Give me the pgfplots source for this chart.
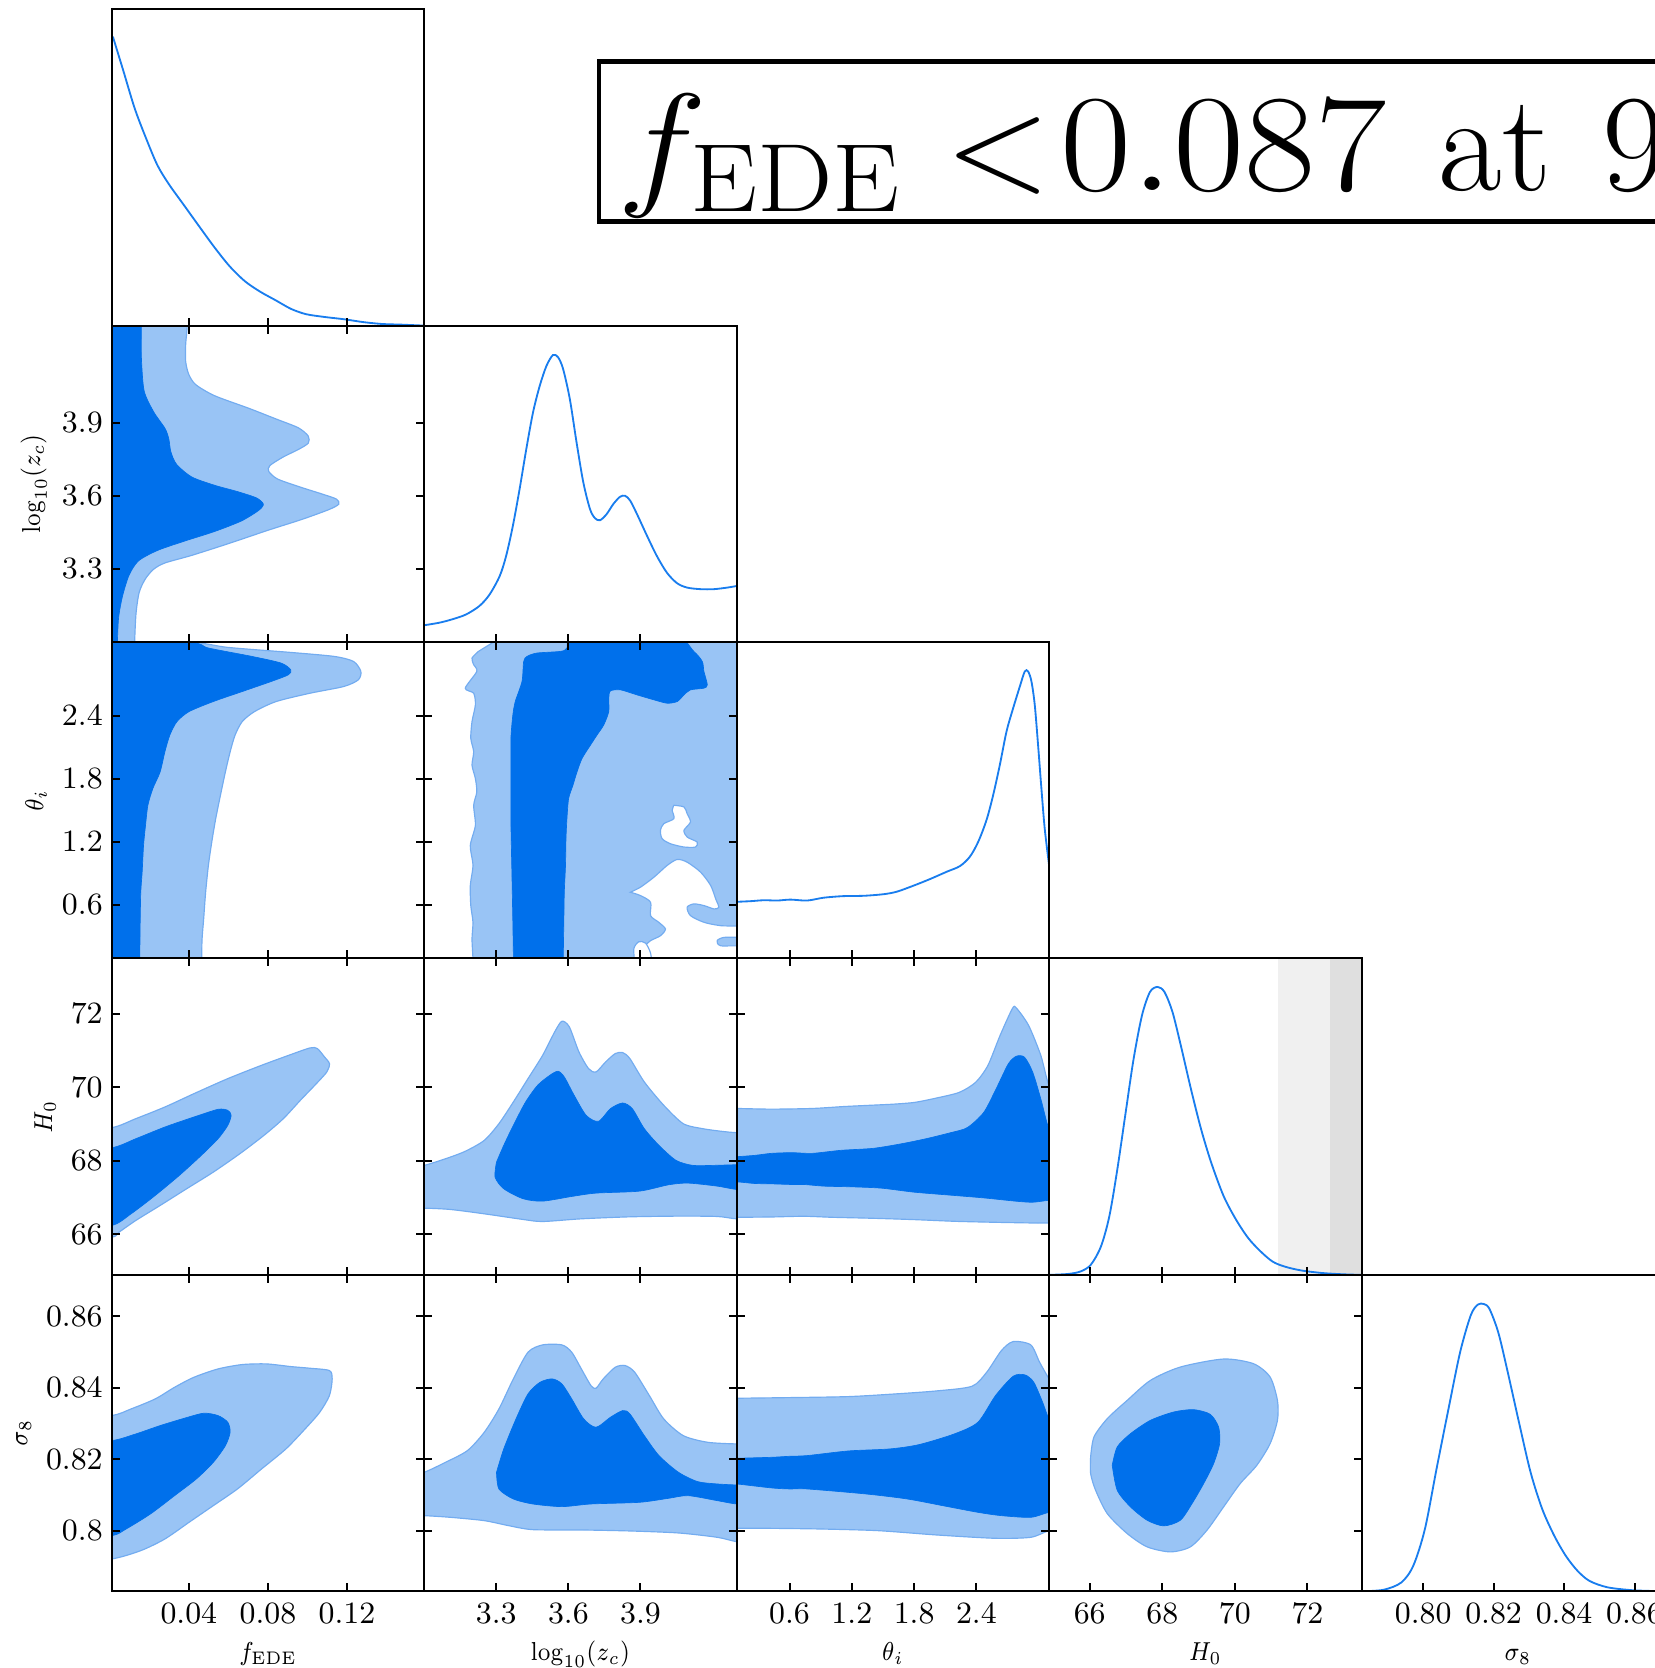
\documentclass[border=0pt]{standalone}
\usepackage{fix-cm}
\usepackage{graphicx}
\usepackage{pgfplots}
\pgfplotsset{compat=1.18}
\definecolor{cdark}{RGB}{0,112,235}
\definecolor{clight}{RGB}{153,196,245}
\definecolor{cedge}{RGB}{115,172,240}
\definecolor{cline}{RGB}{25,125,238}
\definecolor{bandA}{RGB}{240,240,240}
\definecolor{bandB}{RGB}{223,223,223}
\newcommand{\lab}[1]{\scalebox{0.86}[1]{#1}}
\pgfplotsset{
  cp/.style={scale only axis, width=93.735pt, height=94.93pt, anchor=south west,
    axis on top, tick align=inside, major tick length=2.4pt,
    tick style={black, line width=0.6pt}, axis line style={line width=0.6pt},
    tick label style={font=\fontsize{9.3}{11}\selectfont},
    xticklabel style={inner sep=3.6pt}, yticklabel style={inner sep=2.5pt},
    label style={font=\fontsize{7.8}{9}\selectfont},
    ylabel style={inner sep=1.8pt},
    xlabel style={at={(axis description cs:0.5,0)}, anchor=base, yshift=-20.7pt},
    scaled ticks=false, xticklabels={{},{},{},{},{}}, yticklabels={{},{},{},{},{}}, clip=true},
  oned/.style={cp, ymin=0, ymax=1, ytick=\empty, xtick pos=left},
  lt/.style={fill=clight, draw=cedge, line width=0.35pt, smooth, tension=0.45},
  dk/.style={fill=cdark, draw=cdark, line width=0.2pt, smooth, tension=0.45},
  hole/.style={fill=white, draw=cedge, line width=0.35pt, smooth, tension=0.45},
  ln/.style={cline, line width=0.55pt, smooth, mark=none},
  colF/.style={xmin=0.001, xmax=0.159, xtick={0.04,0.08,0.12}},
  colZ/.style={xmin=3.0, xmax=4.3, xtick={3.3,3.6,3.9}},
  colT/.style={xmin=0.09, xmax=3.10, xtick={0.6,1.2,1.8,2.4}},
  colH/.style={xmin=64.88, xmax=73.49, xtick={66,68,70,72}},
  colS/.style={xmin=0.7825, xmax=0.8712, xtick={0.80,0.82,0.84,0.86}},
  rowZ/.style={ymin=3.0, ymax=4.3, ytick={3.3,3.6,3.9}},
  rowT/.style={ymin=0.09, ymax=3.10, ytick={0.6,1.2,1.8,2.4}},
  rowH/.style={ymin=64.9, ymax=73.5, ytick={66,68,70,72}},
  rowS/.style={ymin=0.7831, ymax=0.8716, ytick={0.80,0.82,0.84,0.86}},
  botF/.style={xticklabels={$0.04$,$0.08$,$0.12$}, xlabel={\lab{$f_{\mathrm{EDE}}$}}},
  botZ/.style={xticklabels={$3.3$,$3.6$,$3.9$}, xlabel={\lab{$\log_{10}(z_c)$}}},
  botT/.style={xticklabels={$0.6$,$1.2$,$1.8$,$2.4$}, xlabel={\lab{$\theta_i$}}},
  botH/.style={xticklabels={$66$,$68$,$70$,$72$}, xlabel={\lab{$H_0$}}},
  botS/.style={xticklabels={$0.80$,$0.82$,$0.84$,$0.86$}, xlabel={\lab{$\sigma_8$}}},
  lefZ/.style={yticklabels={$3.3$,$3.6$,$3.9$}, ylabel={\lab{$\log_{10}(z_c)$}}},
  lefT/.style={yticklabels={$0.6$,$1.2$,$1.8$,$2.4$}, ylabel={\lab{$\theta_i$}}},
  lefH/.style={yticklabels={$66$,$68$,$70$,$72$}, ylabel={\lab{$H_0$}}},
  lefS/.style={yticklabels={$0.8$,$0.82$,$0.84$,$0.86$}, ylabel={\lab{$\sigma_8$}}},
}
\begin{document}
\begin{tikzpicture}
\useasboundingbox (0,0) rectangle (496.2pt,500.4pt);
% ---------- row 0 ----------
\begin{axis}[oned, colF, at={(33.51pt,402.72pt)}]
\addplot[ln] coordinates {(0.0016,0.913) (0.0068,0.807) (0.0126,0.687) (0.0183,0.593) (0.0241,0.507) (0.0299,0.447) (0.0376,0.38) (0.0453,0.313) (0.0530,0.247) (0.0607,0.187) (0.0684,0.14) (0.0761,0.107) (0.0839,0.08) (0.0916,0.053) (0.0993,0.036) (0.1089,0.027) (0.1185,0.02) (0.1282,0.011) (0.1378,0.005) (0.1474,0.003) (0.1586,0)};
\end{axis}
% ---------- row 1 ----------
\begin{axis}[cp, colF, rowZ, lefZ, at={(33.51pt,307.79pt)}]
\addplot[lt] coordinates {(-0.02,4.4) (0.0392,4.4) (0.0392,4.300) (0.0384,4.222) (0.0384,4.153) (0.0399,4.101) (0.0434,4.058) (0.0530,4.012) (0.0704,3.960) (0.0839,3.917) (0.0954,3.880) (0.1004,3.846) (0.1004,3.817) (0.0954,3.791) (0.0877,3.760) (0.0810,3.725) (0.0804,3.701) (0.0848,3.670) (0.0954,3.639) (0.1070,3.609) (0.1147,3.587) (0.1158,3.566) (0.1108,3.544) (0.0973,3.504) (0.0800,3.459) (0.0607,3.406) (0.0415,3.356) (0.0280,3.325) (0.0222,3.299) (0.0180,3.259) (0.0149,3.204) (0.0133,3.117) (0.0126,3.000) (0.0124,2.9) (-0.02,2.9)} --cycle;
\addplot[dk] coordinates {(-0.02,4.4) (0.0160,4.4) (0.0160,4.300) (0.0160,4.171) (0.0174,4.032) (0.0222,3.946) (0.0280,3.877) (0.0299,3.834) (0.0309,3.782) (0.0338,3.730) (0.0415,3.678) (0.0530,3.644) (0.0646,3.618) (0.0742,3.592) (0.0777,3.566) (0.0752,3.540) (0.0665,3.497) (0.0530,3.454) (0.0376,3.414) (0.0241,3.376) (0.0145,3.333) (0.0097,3.273) (0.0064,3.186) (0.0045,3.100) (0.0039,3.000) (0.0038,2.9) (-0.02,2.9)} --cycle;
\end{axis}
\begin{axis}[oned, colZ, at={(127.25pt,307.79pt)}]
\addplot[ln] coordinates {(3.000,0.053) (3.063,0.061) (3.118,0.072) (3.174,0.087) (3.230,0.114) (3.272,0.150) (3.314,0.208) (3.341,0.272) (3.369,0.367) (3.397,0.483) (3.425,0.610) (3.453,0.726) (3.481,0.810) (3.509,0.873) (3.536,0.907) (3.557,0.900) (3.578,0.863) (3.606,0.768) (3.634,0.631) (3.662,0.505) (3.690,0.420) (3.711,0.391) (3.732,0.385) (3.759,0.404) (3.787,0.436) (3.815,0.459) (3.836,0.462) (3.857,0.447) (3.885,0.405) (3.927,0.336) (3.968,0.272) (4.010,0.219) (4.052,0.186) (4.094,0.172) (4.150,0.167) (4.205,0.167) (4.261,0.172) (4.300,0.177)};
\end{axis}
% ---------- row 2 ----------
\begin{axis}[cp, colF, rowT, lefT, at={(33.51pt,212.86pt)}]
\addplot[lt] coordinates {(-0.02,3.2) (0.0414,3.100) (0.0597,3.049) (0.0915,3.001) (0.1135,2.963) (0.1233,2.915) (0.1270,2.820) (0.1257,2.740) (0.1184,2.677) (0.1013,2.613) (0.0842,2.534) (0.0732,2.438) (0.0670,2.343) (0.0634,2.215) (0.0609,2.056) (0.0585,1.865) (0.0560,1.643) (0.0536,1.420) (0.0516,1.197) (0.0499,0.975) (0.0485,0.720) (0.0475,0.465) (0.0467,0.275) (0.0465,0.090) (0.0465,0.0) (-0.02,0.0)} --cycle;
\addplot[dk] coordinates {(-0.02,3.2) (0.0401,3.100) (0.0499,3.043) (0.0719,2.963) (0.0866,2.900) (0.0915,2.836) (0.0903,2.788) (0.0817,2.725) (0.0670,2.629) (0.0524,2.534) (0.0401,2.438) (0.0340,2.343) (0.0304,2.215) (0.0279,2.056) (0.0255,1.865) (0.0218,1.706) (0.0193,1.547) (0.0181,1.356) (0.0171,1.165) (0.0164,0.911) (0.0157,0.720) (0.0154,0.434) (0.0152,0.090) (0.0152,0.0) (-0.02,0.0)} --cycle;
\end{axis}
\begin{axis}[cp, colZ, rowT, at={(127.25pt,212.86pt)}]
\addplot[lt] coordinates {(3.289,3.100) (3.32,3.2) (4.4,3.2) (4.4,0.0) (3.203,0.0) (3.203,0.090) (3.199,0.275) (3.203,0.434) (3.194,0.593) (3.192,0.784) (3.203,0.975) (3.192,1.165) (3.213,1.356) (3.206,1.547) (3.219,1.675) (3.213,1.802) (3.199,1.929) (3.206,2.056) (3.194,2.184) (3.199,2.343) (3.213,2.502) (3.206,2.613) (3.171,2.661) (3.219,2.820) (3.206,2.884) (3.199,2.947) (3.226,3.011)} --cycle;
\addplot[hole] coordinates {(4.039,1.547) (4.081,1.531) (4.094,1.468) (4.108,1.388) (4.081,1.309) (4.094,1.245) (4.136,1.197) (4.129,1.150) (4.081,1.150) (4.025,1.181) (3.990,1.229) (3.983,1.309) (3.997,1.372) (4.039,1.420) (4.032,1.500) (4.039,1.547)} --cycle;
\addplot[hole] coordinates {(3.858,0.720) (3.900,0.768) (3.956,0.863) (4.011,0.975) (4.053,1.032) (4.094,1.006) (4.150,0.911) (4.192,0.784) (4.213,0.656) (4.226,0.577) (4.206,0.561) (4.164,0.593) (4.122,0.609) (4.094,0.577) (4.108,0.497) (4.164,0.434) (4.233,0.402) (4.33,0.39) (4.33,0.30) (4.247,0.290) (4.219,0.259) (4.233,0.211) (4.33,0.195) (4.35,0.0) (3.956,0.0) (3.928,0.147) (3.914,0.195) (3.942,0.259) (3.983,0.306) (4.004,0.370) (3.976,0.434) (3.942,0.497) (3.942,0.625) (3.900,0.688) (3.858,0.720)} --cycle;
\addplot[hole] coordinates {(3.879,0.0) (3.872,0.179) (3.893,0.249) (3.921,0.236) (3.942,0.140) (3.949,0.0)} --cycle;
\addplot[dk] coordinates {(3.372,0.0) (3.369,0.434) (3.365,0.911) (3.361,1.388) (3.361,1.865) (3.361,2.184) (3.369,2.406) (3.379,2.534) (3.407,2.725) (3.414,2.915) (3.428,2.963) (3.469,2.995) (3.567,3.011) (3.594,3.043) (3.630,3.2) (4.02,3.2) (4.122,3.011) (4.157,2.915) (4.164,2.820) (4.178,2.693) (4.164,2.661) (4.108,2.645) (4.081,2.597) (4.053,2.534) (4.011,2.518) (3.956,2.550) (3.886,2.597) (3.817,2.645) (3.775,2.635) (3.768,2.565) (3.768,2.438) (3.747,2.311) (3.719,2.215) (3.692,2.120) (3.657,1.993) (3.636,1.865) (3.619,1.738) (3.601,1.611) (3.594,1.420) (3.590,1.229) (3.588,0.975) (3.583,0.720) (3.581,0.434) (3.578,0.0)} --cycle;
\end{axis}
\begin{axis}[oned, colT, at={(220.98pt,212.86pt)}]
\addplot[ln] coordinates {(0.090,0.179) (0.224,0.181) (0.353,0.184) (0.481,0.183) (0.609,0.186) (0.769,0.183) (0.929,0.192) (1.121,0.197) (1.313,0.198) (1.505,0.203) (1.633,0.211) (1.794,0.230) (1.954,0.251) (2.114,0.274) (2.242,0.292) (2.338,0.322) (2.418,0.369) (2.498,0.438) (2.562,0.517) (2.626,0.612) (2.690,0.717) (2.754,0.791) (2.818,0.859) (2.866,0.907) (2.898,0.907) (2.930,0.876) (2.962,0.802) (2.994,0.675) (3.026,0.538) (3.058,0.411) (3.100,0.295)};
\end{axis}
% ---------- row 3 ----------
\begin{axis}[cp, colF, rowH, lefH, at={(33.51pt,117.93pt)}]
\addplot[lt] coordinates {(-0.02,68.85) (0.001,68.901) (0.0132,69.146) (0.0279,69.463) (0.0426,69.826) (0.0597,70.234) (0.0768,70.597) (0.0915,70.887) (0.1013,71.069) (0.1050,71.051) (0.1086,70.824) (0.1111,70.642) (0.1098,70.416) (0.1037,70.053) (0.0964,69.645) (0.0878,69.146) (0.0780,68.692) (0.0658,68.193) (0.0524,67.694) (0.0389,67.241) (0.0255,66.787) (0.0132,66.379) (0.0047,66.061) (0.001,65.925) (-0.02,65.88)} --cycle;
\addplot[dk] coordinates {(-0.02,68.33) (0.001,68.356) (0.0132,68.601) (0.0279,68.919) (0.0426,69.191) (0.0548,69.400) (0.0597,69.372) (0.0614,69.236) (0.0597,68.964) (0.0548,68.601) (0.0463,68.148) (0.0352,67.604) (0.0230,67.059) (0.0108,66.560) (0.001,66.243) (-0.02,66.2)} --cycle;
\end{axis}
\begin{axis}[cp, colZ, rowH, at={(127.25pt,117.93pt)}]
\addplot[lt] coordinates {(2.95,67.85) (3.000,67.876) (3.089,68.057) (3.170,68.257) (3.250,68.556) (3.311,69.010) (3.371,69.599) (3.432,70.234) (3.493,70.869) (3.543,71.504) (3.573,71.794) (3.604,71.640) (3.644,70.960) (3.684,70.506) (3.715,70.416) (3.755,70.688) (3.795,70.915) (3.826,70.942) (3.856,70.778) (3.916,70.143) (3.997,69.508) (4.078,69.010) (4.159,68.874) (4.239,68.801) (4.300,68.765) (4.4,68.75) (4.4,66.43) (4.300,66.424) (4.219,66.488) (4.058,66.497) (3.856,66.478) (3.654,66.424) (3.493,66.351) (3.412,66.406) (3.250,66.560) (3.109,66.678) (3.000,66.714) (2.95,66.70)} --cycle;
\addplot[dk] coordinates {(3.301,67.966) (3.331,68.420) (3.371,68.964) (3.422,69.599) (3.472,70.053) (3.523,70.325) (3.557,70.434) (3.583,70.280) (3.624,69.781) (3.674,69.236) (3.725,69.073) (3.775,69.418) (3.826,69.572) (3.866,69.418) (3.916,68.874) (3.977,68.420) (4.048,68.012) (4.118,67.876) (4.199,67.876) (4.300,67.894) (4.4,67.9) (4.4,67.2) (4.300,67.222) (4.219,67.313) (4.098,67.395) (4.017,67.349) (3.896,67.177) (3.715,67.123) (3.614,67.032) (3.493,66.905) (3.412,66.969) (3.331,67.241) (3.295,67.558) (3.301,67.966)} --cycle;
\end{axis}
\begin{axis}[cp, colT, rowH, at={(220.98pt,117.93pt)}]
\addplot[lt] coordinates {(0.0,69.42) (0.090,69.423) (0.424,69.405) (0.818,69.423) (1.133,69.477) (1.408,69.514) (1.605,69.541) (1.802,69.587) (1.998,69.696) (2.234,69.860) (2.392,70.133) (2.510,70.588) (2.628,71.407) (2.746,72.135) (2.785,72.153) (2.903,71.680) (3.021,70.861) (3.100,70.042) (3.2,69.8) (3.2,66.3) (3.100,66.311) (2.943,66.311) (2.588,66.329) (2.195,66.356) (1.802,66.402) (1.408,66.438) (1.015,66.465) (0.739,66.493) (0.424,66.474) (0.090,66.465) (0.0,66.46)} --cycle;
\addplot[dk] coordinates {(0.0,68.11) (0.090,68.112) (0.267,68.149) (0.424,68.203) (0.621,68.222) (0.818,68.203) (1.093,68.285) (1.408,68.340) (1.684,68.467) (1.920,68.604) (2.156,68.768) (2.313,68.904) (2.470,69.314) (2.589,69.951) (2.707,70.633) (2.785,70.843) (2.864,70.815) (2.943,70.406) (3.021,69.678) (3.100,68.859) (3.2,68.5) (3.2,66.93) (3.100,66.929) (2.943,66.875) (2.785,66.902) (2.470,66.993) (2.156,67.066) (1.802,67.148) (1.487,67.257) (1.211,67.293) (0.936,67.312) (0.739,67.357) (0.621,67.357) (0.424,67.375) (0.267,67.384) (0.090,67.430) (0.0,67.43)} --cycle;
\end{axis}
\begin{axis}[oned, colH, at={(314.72pt,117.93pt)}]
\addplot[fill=bandA, draw=none] coordinates {(71.19,0) (71.19,1) (72.61,1) (72.61,0)} --cycle;
\addplot[fill=bandB, draw=none] coordinates {(72.61,0) (72.61,1) (73.60,1) (73.60,0)} --cycle;
\addplot[ln] coordinates {(64.88,0) (65.41,0.003) (65.75,0.011) (66.03,0.032) (66.31,0.090) (66.54,0.185) (66.76,0.333) (66.99,0.513) (67.21,0.683) (67.44,0.820) (67.66,0.894) (67.87,0.910) (68.06,0.894) (68.28,0.831) (68.51,0.725) (68.79,0.587) (69.07,0.460) (69.35,0.354) (69.69,0.249) (70.03,0.175) (70.37,0.116) (70.71,0.074) (71.04,0.042) (71.38,0.026) (71.83,0.014) (72.40,0.006) (72.96,0.002) (73.49,0)};
\end{axis}
% ---------- row 4 ----------
\begin{axis}[cp, colF, rowS, lefS, botF, at={(33.51pt,23.0pt)}]
\addplot[lt] coordinates {(-0.02,0.8318) (0.001,0.83225) (0.0108,0.83411) (0.0230,0.83691) (0.0328,0.84017) (0.0426,0.84297) (0.0548,0.84530) (0.0670,0.84652) (0.0793,0.84670) (0.0915,0.84596) (0.1013,0.84549) (0.1111,0.84484) (0.1125,0.84251) (0.1111,0.83784) (0.1062,0.83318) (0.0988,0.82852) (0.0891,0.82292) (0.0768,0.81733) (0.0646,0.81173) (0.0524,0.80707) (0.0401,0.80240) (0.0279,0.79774) (0.0157,0.79448) (0.001,0.79215) (-0.02,0.7915)} --cycle;
\addplot[dk] coordinates {(-0.02,0.8249) (0.001,0.82525) (0.0132,0.82712) (0.0255,0.82945) (0.0377,0.83150) (0.0475,0.83290) (0.0548,0.83225) (0.0597,0.83038) (0.0609,0.82758) (0.0585,0.82385) (0.0524,0.81919) (0.0438,0.81453) (0.0328,0.80986) (0.0206,0.80474) (0.0083,0.80054) (0.001,0.79867) (-0.02,0.7984)} --cycle;
\end{axis}
\begin{axis}[cp, colZ, rowS, botZ, at={(127.25pt,23.0pt)}]
\addplot[lt] coordinates {(2.95,0.8160) (3.000,0.81639) (3.089,0.81919) (3.180,0.82246) (3.250,0.82758) (3.311,0.83411) (3.371,0.84251) (3.432,0.84997) (3.493,0.85202) (3.573,0.85202) (3.614,0.84997) (3.654,0.84530) (3.694,0.84064) (3.715,0.83989) (3.745,0.84251) (3.795,0.84577) (3.836,0.84624) (3.876,0.84437) (3.937,0.83784) (3.997,0.83131) (4.078,0.82665) (4.179,0.82479) (4.300,0.82432) (4.4,0.8243) (4.4,0.7965) (4.300,0.79700) (4.219,0.79821) (4.058,0.79942) (3.856,0.79998) (3.654,0.80026) (3.452,0.80035) (3.351,0.80147) (3.250,0.80287) (3.109,0.80380) (3.000,0.80427) (2.95,0.8043)} --cycle;
\addplot[dk] coordinates {(3.301,0.81639) (3.331,0.82292) (3.382,0.83131) (3.432,0.83831) (3.482,0.84157) (3.533,0.84251) (3.573,0.84111) (3.614,0.83691) (3.664,0.83131) (3.715,0.82898) (3.775,0.83178) (3.826,0.83365) (3.856,0.83271) (3.916,0.82665) (3.977,0.82106) (4.058,0.81639) (4.138,0.81378) (4.219,0.81313) (4.300,0.81285) (4.4,0.8128) (4.4,0.8074) (4.300,0.80753) (4.219,0.80847) (4.098,0.80986) (4.017,0.80912) (3.896,0.80800) (3.694,0.80753) (3.573,0.80679) (3.452,0.80753) (3.371,0.80893) (3.311,0.81173) (3.301,0.81639)} --cycle;
\end{axis}
\begin{axis}[cp, colT, rowS, botT, at={(220.98pt,23.0pt)}]
\addplot[lt] coordinates {(0.0,0.8371) (0.090,0.83710) (0.600,0.83728) (1.167,0.83756) (1.620,0.83831) (2.017,0.83915) (2.357,0.84045) (2.499,0.84437) (2.641,0.85043) (2.754,0.85295) (2.924,0.85202) (3.009,0.84717) (3.100,0.84251) (3.2,0.838) (3.2,0.7998) (3.100,0.80007) (2.924,0.79821) (2.584,0.79793) (2.017,0.79886) (1.450,0.80007) (0.884,0.80054) (0.373,0.80073) (0.090,0.80073) (0.0,0.8007)} --cycle;
\addplot[dk] coordinates {(0.0,0.8203) (0.090,0.82031) (0.430,0.82059) (0.600,0.82087) (0.770,0.82106) (1.167,0.82236) (1.564,0.82292) (1.847,0.82413) (2.187,0.82712) (2.414,0.83038) (2.584,0.83784) (2.754,0.84325) (2.868,0.84363) (2.953,0.84157) (3.038,0.83598) (3.100,0.83131) (3.2,0.828) (3.2,0.805) (3.100,0.80520) (2.924,0.80380) (2.641,0.80427) (2.414,0.80520) (2.074,0.80707) (1.734,0.80893) (1.337,0.81033) (0.770,0.81173) (0.600,0.81173) (0.430,0.81201) (0.090,0.81313) (0.0,0.8131)} --cycle;
\end{axis}
\begin{axis}[cp, colH, rowS, botH, at={(314.72pt,23.0pt)}]
\addplot[lt] coordinates {(66.025,0.82068) (66.117,0.82627) (66.483,0.83139) (67.033,0.83651) (67.674,0.84210) (68.498,0.84583) (69.689,0.84807) (70.513,0.84676) (70.971,0.84304) (71.173,0.83651) (71.173,0.83093) (70.971,0.82441) (70.605,0.81835) (70.147,0.81323) (69.689,0.80671) (69.231,0.80019) (68.773,0.79553) (68.223,0.79413) (67.582,0.79553) (67.033,0.79925) (66.483,0.80484) (66.162,0.81136) (66.025,0.81602) (66.025,0.82068)} --cycle;
\addplot[dk] coordinates {(66.620,0.81835) (66.758,0.82347) (67.124,0.82720) (67.674,0.83093) (68.315,0.83325) (68.864,0.83391) (69.322,0.83260) (69.551,0.82906) (69.579,0.82441) (69.414,0.81882) (69.139,0.81323) (68.819,0.80764) (68.498,0.80298) (68.040,0.80140) (67.582,0.80298) (67.124,0.80671) (66.758,0.81136) (66.620,0.81835)} --cycle;
\end{axis}
\begin{axis}[oned, colS, botS, at={(408.45pt,23.0pt)}]
\addplot[ln] coordinates {(0.7825,0) (0.7888,0.005) (0.7938,0.028) (0.7972,0.081) (0.8005,0.197) (0.8038,0.387) (0.8072,0.577) (0.8105,0.756) (0.8135,0.872) (0.8155,0.906) (0.8172,0.908) (0.8188,0.893) (0.8213,0.819) (0.8238,0.703) (0.8272,0.534) (0.8305,0.376) (0.8338,0.260) (0.8372,0.176) (0.8405,0.112) (0.8438,0.065) (0.8472,0.033) (0.8522,0.013) (0.8588,0.004) (0.8652,0.001) (0.8712,0)};
\end{axis}
% ---------- title box ----------
\draw[line width=1.4pt] (179.7pt,433.9pt) rectangle (530pt,481.9pt);
\begin{scope}[every node/.style={anchor=base west, inner sep=0pt, font=\fontsize{41.5}{48}\selectfont}]
\node at (185pt,443.3pt) {\scalebox{1.1}[1]{$f_{\mathrm{EDE}}$}};
\node at (283.5pt,443.3pt) {$<$};
\node at (318pt,443.3pt) {\scalebox{1.12}[1]{$0.087$}};
\node at (431.4pt,443.3pt) {at};
\node at (480.5pt,443.3pt) {95\% C.L.};
\end{scope}
\end{tikzpicture}
\end{document}
